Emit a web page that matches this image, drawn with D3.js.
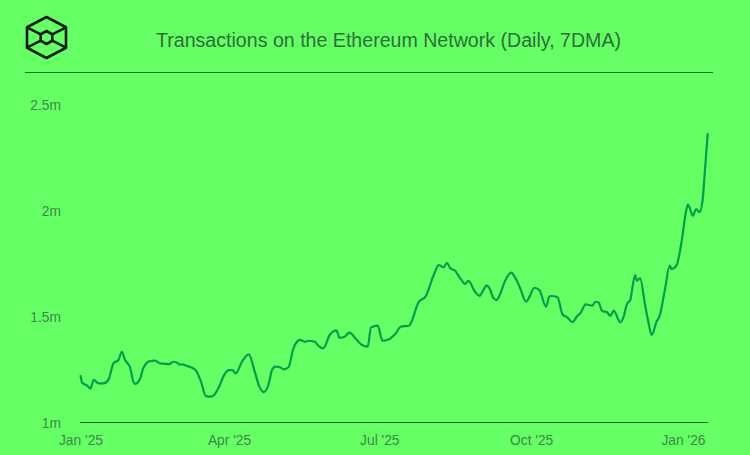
<!DOCTYPE html>
<html>
<head>
<meta charset="utf-8">
<script src="https://cdn.jsdelivr.net/npm/d3@7"></script>
<style>
  html, body { margin: 0; padding: 0; background: #66ff66; }
  svg { display: block; }
  text { font-family: "Liberation Sans", Arial, sans-serif; }
</style>
</head>
<body>
<svg id="canvas"></svg>
<script>
var w = 750;
var h = 455;

var titleText = "Transactions on the Ethereum Network (Daily, 7DMA)";
var startDate = new Date(2025, 0, 1);

// days since startDate
var dayOffsets = [0, 1, 4, 6, 8, 11, 14, 17, 20, 23, 25, 27, 30, 32, 33, 36, 38, 42, 45, 48,
  54, 56, 59, 60, 62, 64, 67, 70, 73, 76, 79, 81, 84, 87, 90, 92, 94, 98, 102, 105,
  108, 111, 114, 116, 118, 121, 123, 126, 129, 133, 136, 138, 142, 144, 147, 151, 155, 157, 160, 163,
  167, 170, 174, 176, 180, 183, 187, 191, 194, 199, 205, 209, 214, 217, 220, 222, 224, 227, 230, 233,
  235, 239, 242, 243, 246, 248, 250, 252, 254, 257, 261, 263, 266, 270, 272, 275, 278, 282, 284, 285,
  289, 292, 295, 298, 301, 303, 306, 310, 312, 314, 316, 319, 321, 323, 327, 329, 331, 333, 336, 337,
  339, 342, 344, 346, 349, 351, 354, 357, 358, 361, 364, 367, 368, 371, 373, 375, 377, 378, 380];

// transactions per day, millions
var txMillions = [1.226, 1.190, 1.176, 1.162, 1.203, 1.187, 1.187, 1.206, 1.282, 1.297, 1.336, 1.297, 1.263, 1.195, 1.184, 1.206, 1.258, 1.292, 1.294, 1.282,
  1.278, 1.289, 1.282, 1.275, 1.277, 1.270, 1.263, 1.247, 1.195, 1.127, 1.124, 1.132, 1.171, 1.226, 1.249, 1.249, 1.234, 1.292, 1.324, 1.258,
  1.179, 1.146, 1.184, 1.250, 1.266, 1.263, 1.253, 1.263, 1.352, 1.392, 1.383, 1.388, 1.383, 1.365, 1.352, 1.415, 1.437, 1.402, 1.407, 1.426,
  1.395, 1.371, 1.360, 1.451, 1.459, 1.388, 1.395, 1.423, 1.454, 1.459, 1.572, 1.596, 1.698, 1.745, 1.734, 1.756, 1.730, 1.718, 1.683, 1.656,
  1.670, 1.619, 1.600, 1.612, 1.648, 1.632, 1.591, 1.580, 1.604, 1.667, 1.709, 1.690, 1.643, 1.572, 1.596, 1.638, 1.627, 1.549, 1.596, 1.599,
  1.593, 1.513, 1.497, 1.476, 1.505, 1.520, 1.560, 1.553, 1.572, 1.567, 1.528, 1.522, 1.505, 1.530, 1.475, 1.501, 1.560, 1.580, 1.698, 1.671,
  1.683, 1.557, 1.478, 1.415, 1.478, 1.509, 1.627, 1.742, 1.726, 1.742, 1.848, 2.005, 2.030, 1.978, 2.009, 1.994, 2.060, 2.162, 2.367];

var yTicks = [1, 1.5, 2, 2.5];
var xTicks = [new Date(2025, 0, 1), new Date(2025, 3, 1), new Date(2025, 6, 1), new Date(2025, 9, 1), new Date(2026, 0, 1)];

var svg = d3.select("#canvas")
  .attr("width", w)
  .attr("height", h)
  .attr("viewBox", [0, 0, w, h]);

var x = d3.scaleTime()
  .domain([startDate, new Date(2026, 0, 1)])
  .range([80.5, 683]);
var y = d3.scaleLinear()
  .domain([1, 2.5])
  .range([423, 105]);

var rows = dayOffsets.map(function (d, i) {
  return { date: d3.timeDay.offset(startDate, d), value: txMillions[i] };
});

// title + header rule
svg.append("text")
  .attr("x", 388.5)
  .attr("y", 47)
  .attr("text-anchor", "middle")
  .attr("font-size", 19.6)
  .attr("fill", "#2a7038")
  .text(titleText);

svg.append("line")
  .attr("x1", 25).attr("x2", 713)
  .attr("y1", 72.5).attr("y2", 72.5)
  .attr("stroke", "#0f7a1e")
  .attr("stroke-width", 1);

// logo
var logo = svg.append("g")
  .attr("transform", "translate(46.5,37.5)")
  .attr("fill", "none")
  .attr("stroke", "#0c1f12")
  .attr("stroke-width", 2.6)
  .attr("stroke-linejoin", "round");
function hexPoints(rx, ry) {
  return [[0, -ry], [rx, -ry / 2], [rx, ry / 2], [0, ry], [-rx, ry / 2], [-rx, -ry / 2]];
}
logo.append("polygon").attr("points", hexPoints(19.5, 20.5).join(" "));
logo.append("polygon").attr("points", hexPoints(5.8, 6.5).join(" "));
[[-19.5, -10.2, -5.8, -3.2], [19.5, -10.2, 5.8, -3.2], [-19.5, 10.2, -5.8, 3.2], [19.5, 10.2, 5.8, 3.2]].forEach(function (s) {
  logo.append("line").attr("x1", s[0]).attr("y1", s[1]).attr("x2", s[2]).attr("y2", s[3]);
});

// axes
var yAxis = d3.axisLeft(y)
  .tickValues(yTicks)
  .tickSize(0)
  .tickPadding(0)
  .tickFormat(function (d) { return d + "m"; });
var yG = svg.append("g").attr("transform", "translate(61,0)").call(yAxis);
yG.select(".domain").remove();
yG.selectAll("text")
  .attr("font-size", 13.8)
  .attr("font-family", "Liberation Sans, Arial, sans-serif")
  .attr("fill", "#3a8a45");

var xAxis = d3.axisBottom(x)
  .tickValues(xTicks)
  .tickSize(0)
  .tickPadding(12)
  .tickFormat(d3.timeFormat("%b '%y"));
var xG = svg.append("g").attr("transform", "translate(0,423)").call(xAxis);
xG.select(".domain").remove();
xG.selectAll("text")
  .attr("font-size", 13.8)
  .attr("font-family", "Liberation Sans, Arial, sans-serif")
  .attr("fill", "#3a8a45");

svg.append("line")
  .attr("x1", 80).attr("x2", 708)
  .attr("y1", 422.5).attr("y2", 422.5)
  .attr("stroke", "#0f6a1e")
  .attr("stroke-width", 1);

// the series
var line = d3.line()
  .curve(d3.curveMonotoneX)
  .x(function (d) { return x(d.date); })
  .y(function (d) { return y(d.value); });

svg.append("path")
  .datum(rows)
  .attr("d", line)
  .attr("fill", "none")
  .attr("stroke", "#00a04a")
  .attr("stroke-width", 2.2)
  .attr("stroke-linejoin", "round");
</script>
</body>
</html>
